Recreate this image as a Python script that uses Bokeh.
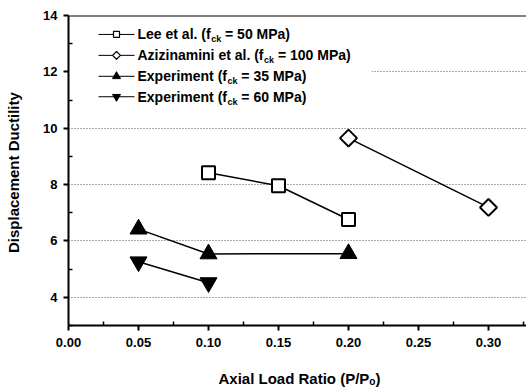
import math
from bokeh.plotting import figure
from bokeh.models import Range1d, FixedTicker, PrintfTickFormatter, Label, Span, BoxAnnotation
from bokeh.embed import file_html
from bokeh.resources import INLINE

# ---------------- data ----------------
lee_x = [0.10, 0.15, 0.20]
lee_y = [8.42, 7.96, 6.76]
azi_x = [0.20, 0.30]
azi_y = [9.65, 7.19]
e35_x = [0.05, 0.10, 0.20]
e35_y = [6.42, 5.54, 5.55]
e60_x = [0.05, 0.10]
e60_y = [5.26, 4.52]

legend_texts = [
    ("Lee et al. (f", "ck", "= 50 MPa)"),
    ("Azizinamini et al. (f", "ck", "= 100 MPa)"),
    ("Experiment (f", "ck", "= 35 MPa)"),
    ("Experiment (f", "ck", "= 60 MPa)"),
]
x_ticks = [0.00, 0.05, 0.10, 0.15, 0.20, 0.25, 0.30]
x_minor = [0.025, 0.075, 0.125, 0.175, 0.225, 0.275, 0.325]
y_ticks = [4, 6, 8, 10, 12, 14]
y_minor = [3, 5, 7, 9, 11, 13]
grid_ticks = [4, 6, 8, 10, 12]
x_title = "Axial Load Ratio (P/P\u2092)"
y_title = "Displacement  Ductility"

# ---------------- layout ----------------
W, H = 530, 389
L, R, T = 68, 0, 15
FW = W - L - R
FH = 311
B = H - T - FH
XMIN, YMIN, YMAX = 0.0, 3.0, 14.0
PX_PER_X = 1400.0
XMAX = XMIN + FW / PX_PER_X
FONT = "Liberation Sans"
LEG_SIZE = 14

def dx(px):
    return XMIN + (px - L) / PX_PER_X

def dy(py):
    return YMIN + ((T + FH) - py) * (YMAX - YMIN) / FH

# Arial / Liberation Sans bold advance widths (1/1000 em)
BOLD = {' ': 278, '(': 333, ')': 333, '.': 278, '/': 278, '=': 584, 'A': 722, 'E': 667,
        'L': 611, 'M': 833, 'P': 667, 'R': 722, 'a': 556, 'c': 556, 'd': 611, 'e': 556,
        'f': 333, 'i': 278, 'k': 556, 'l': 278, 'm': 889, 'n': 611, 'o': 611, 'p': 611,
        'r': 389, 't': 333, 'x': 556, 'z': 500}

def tw(s, size):
    return sum(BOLD.get(c, 556) for c in s) * size / 1000.0

p = figure(width=W, height=H, output_backend="svg", toolbar_location=None,
           x_range=Range1d(XMIN, XMAX), y_range=Range1d(YMIN, YMAX),
           min_border_left=L, min_border_right=R, min_border_top=T, min_border_bottom=B)
p.outline_line_color = None
p.background_fill_color = "white"
p.border_fill_color = "white"
p.xgrid.visible = False
p.ygrid.ticker = FixedTicker(ticks=grid_ticks)
p.ygrid.grid_line_color = "#555555"
p.ygrid.grid_line_dash = "1 2"
p.ygrid.grid_line_width = 1

for ax in (p.xaxis[0], p.yaxis[0]):
    ax.axis_line_width = 2
    ax.axis_line_color = "black"
    ax.major_tick_line_width = 2
    ax.major_tick_line_color = "black"
    ax.minor_tick_line_width = 1.5
    ax.minor_tick_line_color = "black"
    ax.major_tick_out = 5
    ax.major_tick_in = 0
    ax.minor_tick_out = 0
    ax.minor_tick_in = 4
    ax.major_label_text_font = FONT
    ax.major_label_text_font_style = "bold"
    ax.major_label_text_font_size = "13px"
    ax.major_label_text_color = "black"
    ax.axis_label_text_font = FONT
    ax.axis_label_text_font_style = "bold"
    ax.axis_label_text_font_size = "15px"
    ax.axis_label_text_color = "black"

p.xaxis.ticker = FixedTicker(ticks=x_ticks, minor_ticks=x_minor)
p.xaxis.formatter = PrintfTickFormatter(format="%.2f")
p.xaxis.major_label_standoff = 7
p.xaxis.axis_label = x_title
p.xaxis.axis_label_standoff = 20
p.yaxis.ticker = FixedTicker(ticks=y_ticks, minor_ticks=y_minor)
p.yaxis.major_label_standoff = 6
p.yaxis.axis_label = y_title
p.yaxis.axis_label_standoff = 18

# white legend background covering the grid behind legend
p.add_layout(BoxAnnotation(left=XMIN, right=dx(371), bottom=dy(106), top=dy(20),
                           fill_color="white", fill_alpha=1.0, line_color=None,
                           level="underlay"))

# top frame line
p.add_layout(Span(location=YMAX, dimension="width", line_color="black", line_width=2))

# ---------------- series ----------------
p.line(lee_x, lee_y, line_color="black", line_width=1.5)
p.scatter(lee_x, lee_y, marker="square", size=13, fill_color="white",
          line_color="black", line_width=2)

p.line(azi_x, azi_y, line_color="black", line_width=1.5)
p.scatter(azi_x, azi_y, marker="square", angle=math.pi / 4, size=12,
          fill_color="white", line_color="black", line_width=2)

p.line(e35_x, e35_y, line_color="black", line_width=1.5)
p.scatter(e35_x, e35_y, marker="triangle", size=17, fill_color="black", line_color="black")

p.line(e60_x, e60_y, line_color="black", line_width=1.5)
p.scatter(e60_x, e60_y, marker="inverted_triangle", size=17, fill_color="black",
          line_color="black")

# ---------------- legend ----------------
rows = [34, 55, 76, 96.5]
markers = [
    dict(marker="square", size=6, fill_color="white", line_width=1.2),
    dict(marker="square", angle=math.pi / 4, size=5.5, fill_color="white", line_width=1.2),
    dict(marker="triangle", size=8, fill_color="black", line_width=1),
    dict(marker="inverted_triangle", size=8, fill_color="black", line_width=1),
]
text_x = 137
for ry, mk, (t1, sub, t2) in zip(rows, markers, legend_texts):
    p.line([dx(98), dx(134)], [dy(ry), dy(ry)], line_color="black", line_width=1)
    p.scatter([dx(116)], [dy(ry)], line_color="black", **mk)
    p.add_layout(Label(x=dx(text_x), y=dy(ry), text=t1, text_font=FONT,
                       text_font_size=f"{LEG_SIZE}px", text_font_style="bold",
                       text_baseline="middle", text_align="left", text_color="black"))
    subx = text_x + tw(t1, LEG_SIZE) + 0.5
    p.add_layout(Label(x=dx(subx), y=dy(ry + 5), text=sub, text_font=FONT,
                       text_font_size="9px", text_font_style="bold",
                       text_baseline="middle", text_align="left", text_color="black"))
    p.add_layout(Label(x=dx(subx + tw(sub, 9) + tw(" ", LEG_SIZE)), y=dy(ry),
                       text=t2, text_font=FONT, text_font_size=f"{LEG_SIZE}px",
                       text_font_style="bold", text_baseline="middle", text_align="left",
                       text_color="black"))

open("out.html", "w").write(file_html(p, INLINE))
